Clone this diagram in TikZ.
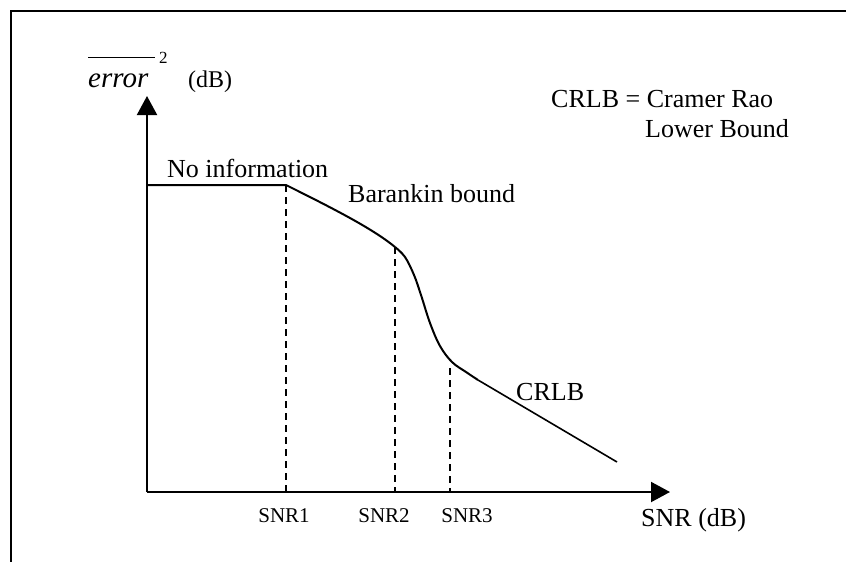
\documentclass[tikz,border=0pt]{standalone}
\usepackage{fontspec}
\setmainfont{Liberation Serif}
\usetikzlibrary{arrows.meta}
\begin{document}
\begin{tikzpicture}[x=1pt,y=-1pt,
  axis/.style={line width=2pt,-{Triangle[length=19pt,width=20pt]}},
  curve/.style={line width=2pt,line join=round},
  guide/.style={line width=1.5pt,dash pattern=on 7pt off 5pt},
  lbl/.style={inner sep=0pt,anchor=base west,font=\fontsize{26}{30}\selectfont},
  ticklbl/.style={inner sep=0pt,anchor=base,font=\fontsize{21}{24}\selectfont}]
\useasboundingbox (0,0) rectangle (846,562);
% frame
\draw[line width=2pt] (11,562) -- (11,11) -- (846,11);

% axes
\coordinate (O) at (147,492);
\coordinate (ytip) at (147,96);
\coordinate (xtip) at (670,492);
\draw[axis] (O) -- (ytip);
\draw[axis] (O) -- (xtip);

% key points of the bound
\coordinate (p0) at (147,185);
\coordinate (p1) at (286,185);
\coordinate (p2) at (395,247);
\coordinate (p4) at (478,380);
\coordinate (p5) at (617,462);
\coordinate (d3) at (450,368);

\draw[curve] (p0) -- (p1) .. controls (330,207) and (372,228) .. (p2);
\draw[curve] plot[smooth,tension=0.6] coordinates
  {(395,247) (405,257) (414,275) (421,295) (430,323) (440,346) (452,362) (466,372) (478,380)};
\draw[line width=1.6pt] (p4) -- (p5);

% guide lines
\coordinate (b1) at (286,492);
\coordinate (b2) at (395,492);
\coordinate (b3) at (450,492);
\draw[guide] (p1) -- (b1);
\draw[guide] (p2) -- (b2);
\draw[guide] (d3) -- (b3);

% labels
\node[lbl] (noinfo) at (167,177) {No information};
\node[lbl] (bar) at (348,202) {Barankin bound};
\node[lbl] (crlb) at (516,400) {CRLB};
\node[lbl] (def1) at (551,107) {CRLB = Cramer Rao};
\node[lbl] (def2) at (645,137) {Lower Bound};
\node[lbl] (xlab) at (641,526) {SNR (dB)};
\node[ticklbl] (s1) at (284,522) {SNR1};
\node[ticklbl] (s2) at (384,522) {SNR2};
\node[ticklbl] (s3) at (467,522) {SNR3};

% y-axis label
\node[inner sep=0pt,anchor=base west,font=\fontsize{29}{32}\selectfont\itshape] (err) at (88,87) {error};
\draw[line width=1pt] (88,57) -- (155,57);
\node[inner sep=0pt,anchor=base west,font=\fontsize{17}{19}\selectfont] (sq) at (159,63) {2};
\node[inner sep=0pt,anchor=base west,font=\fontsize{24}{27}\selectfont] (db) at (188,87) {(dB)};
\end{tikzpicture}
\end{document}
